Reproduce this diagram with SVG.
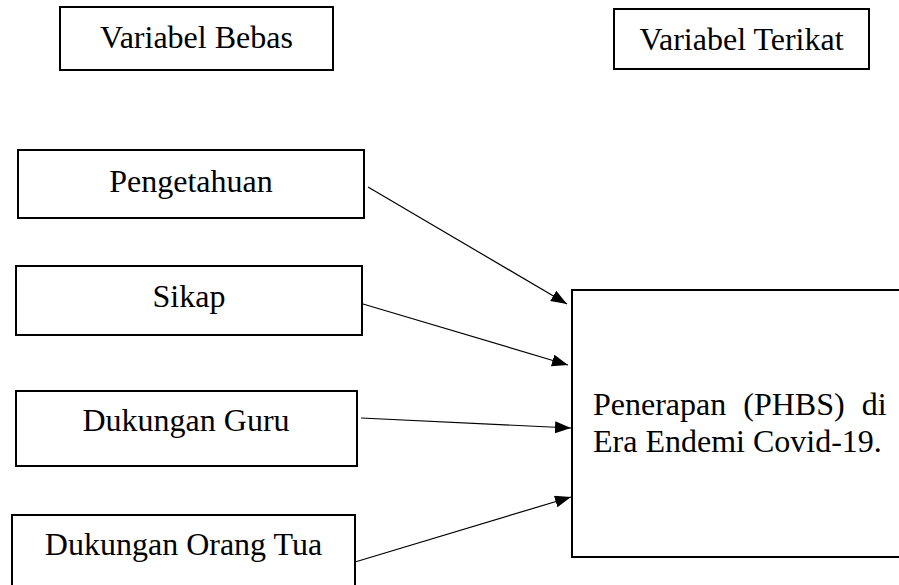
<svg xmlns="http://www.w3.org/2000/svg" width="899" height="585" viewBox="0 0 899 585">
  <style>
    .box { fill: #ffffff; stroke: #000000; stroke-width: 2; }
    .lbl { font-family: "Liberation Serif", "Times New Roman", serif; font-size: 32px; fill: #000000; }
    .mid { text-anchor: middle; }
    .conn { stroke: #000000; stroke-width: 1.2; fill: none; marker-end: url(#arrow); }
  </style>
  <defs>
    <marker id="arrow" markerUnits="userSpaceOnUse" markerWidth="17" markerHeight="13" refX="16" refY="6" orient="auto">
      <path d="M0,0 L16,6 L0,12 Z" fill="#000000"/>
    </marker>
  </defs>
  <rect width="899" height="585" fill="#ffffff"/>

  <g id="variabel-bebas">
    <rect class="box" x="60" y="7" width="273" height="63"/>
    <text class="lbl mid" x="196.5" y="48">Variabel Bebas</text>
  </g>
  <g id="variabel-terikat">
    <rect class="box" x="614" y="9" width="255" height="60"/>
    <text class="lbl mid" x="741.5" y="50">Variabel Terikat</text>
  </g>
  <g id="pengetahuan">
    <rect class="box" x="18" y="150" width="346" height="68"/>
    <text class="lbl mid" x="191" y="192">Pengetahuan</text>
  </g>
  <g id="sikap">
    <rect class="box" x="16" y="266" width="346" height="69"/>
    <text class="lbl mid" x="189" y="307">Sikap</text>
  </g>
  <g id="dukungan-guru">
    <rect class="box" x="16" y="391" width="341" height="75"/>
    <text class="lbl mid" x="186" y="431">Dukungan Guru</text>
  </g>
  <g id="dukungan-orang-tua">
    <rect class="box" x="12" y="515" width="343" height="80"/>
    <text class="lbl mid" x="183.5" y="555">Dukungan Orang Tua</text>
  </g>
  <g id="penerapan-phbs">
    <rect class="box" x="572" y="290" width="340" height="267"/>
    <text class="lbl" x="593" y="415" word-spacing="9">Penerapan (PHBS) di</text>
    <text class="lbl" x="593" y="452">Era Endemi Covid-19.</text>
  </g>

  <g id="connectors">
    <line class="conn" x1="368" y1="187" x2="567" y2="304"/>
    <line class="conn" x1="363" y1="304" x2="568" y2="365"/>
    <line class="conn" x1="361" y1="418" x2="571" y2="428"/>
    <line class="conn" x1="355" y1="562" x2="571" y2="497"/>
  </g>
</svg>
